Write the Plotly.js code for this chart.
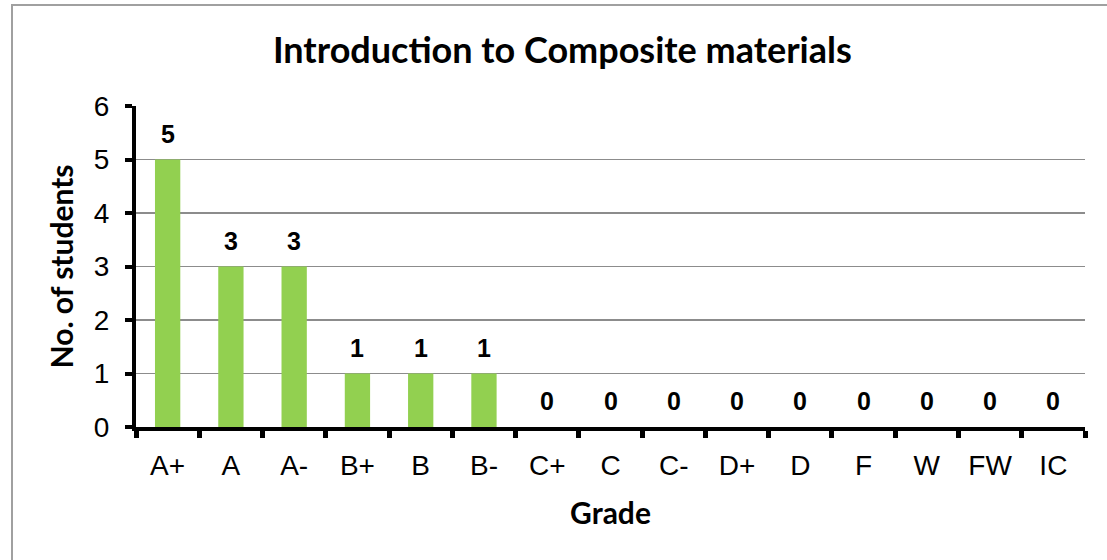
<!DOCTYPE html>
<html>
<head>
<meta charset="utf-8">
<script src="https://cdn.plot.ly/plotly-3.0.1.min.js"></script>
<style>
html,body{margin:0;padding:0;overflow:hidden;background:#fff;}
#wrap{position:relative;width:1107px;height:560px;}
#chart{width:1107px;height:560px;}
#frame{position:absolute;left:11px;top:4px;width:1200px;height:700px;border:2px solid #a0a0a0;pointer-events:none;box-sizing:border-box;}
</style>
</head>
<body>
<div id="wrap"><div id="chart"></div><div id="frame"></div></div>
<script>
const grades = ["A+","A","A-","B+","B","B-","C+","C","C-","D+","D","F","W","FW","IC"];
const students = [5,3,3,1,1,1,0,0,0,0,0,0,0,0,0];
const chartTitle = "Introduction to Composite materials";
const xTitle = "Grade";
const yTitle = "No. of students";

const trace = {
  type: "bar",
  x: grades,
  y: students,
  marker: {color: "#92D050"},
  hoverinfo: "x+y"
};

const annotations = grades.map((g, i) => ({
  x: g, y: students[i], xref: "x", yref: "y",
  text: "<b>" + String(students[i]) + "</b>", showarrow: false,
  yanchor: "middle", yshift: 26,
  font: {family: "Liberation Sans, Arial, sans-serif", size: 25, color: "#000"}
}));

const layout = {
  width: 1107, height: 560,
  margin: {l: 136, r: 22, t: 106, b: 133},
  paper_bgcolor: "#fff", plot_bgcolor: "#fff",
  bargap: 0.6,
  showlegend: false,
  title: {
    text: "<b>" + chartTitle + "</b>",
    x: 0.508, xanchor: "center", y: 0.91, yanchor: "middle",
    font: {family: "Lato, Open Sans, sans-serif", size: 36, color: "#000"}
  },
  xaxis: {
    type: "category",
    showline: true, linecolor: "#000", linewidth: 4,
    ticks: "outside", tickson: "boundaries", ticklen: 7, tickwidth: 5, tickcolor: "#000",
    tickfont: {family: "Liberation Sans, Arial, sans-serif", size: 28, color: "#000"},
    ticklabelstandoff: 10,
    showgrid: false, zeroline: false,
    title: {text: "<b>" + xTitle + "</b>", font: {family: "Lato, Open Sans, sans-serif", size: 30, color: "#000"}, standoff: 24}
  },
  yaxis: {
    range: [0, 6], dtick: 1,
    showline: true, linecolor: "#000", linewidth: 4,
    ticks: "outside", ticklen: 7, tickwidth: 4, tickcolor: "#000",
    tickfont: {family: "Liberation Sans, Arial, sans-serif", size: 28, color: "#000"},
    ticklabelstandoff: 10,
    showgrid: true, gridcolor: "#8c8c8c", gridwidth: 1.3,
    zeroline: false,
    title: {text: "<b>" + yTitle + "</b>", font: {family: "Lato, Open Sans, sans-serif", size: 30, color: "#000"}, standoff: 12}
  },
  annotations: annotations
};

Plotly.newPlot("chart", [trace], layout, {displayModeBar: false, staticPlot: true});
</script>
</body>
</html>
